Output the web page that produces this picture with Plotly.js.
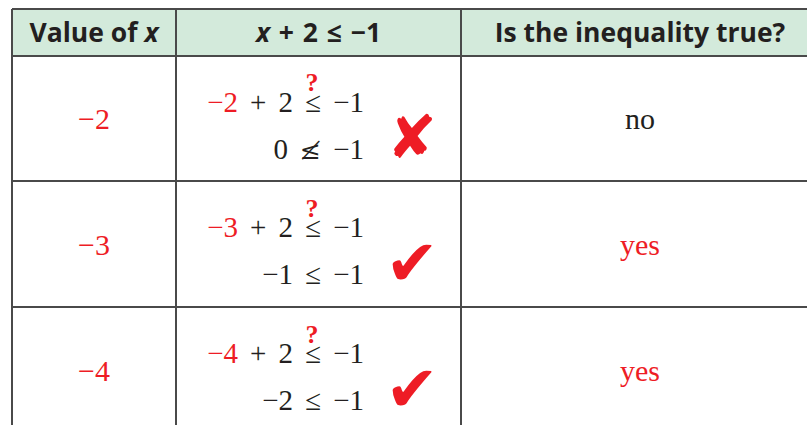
<!DOCTYPE html>
<html>
<head>
<meta charset="utf-8">
<script src="https://cdn.plot.ly/plotly-3.0.1.min.js"></script>
<style>html,body{margin:0;padding:0;background:#fff;}#chart{width:807px;height:425px;}</style>
</head>
<body>
<div id="chart"></div>
<script>
// ---- data ----
const headers = ['Value of <i>x</i>', '<i>x</i>\u2004+\u20042\u2004≤\u2004−1', 'Is the inequality true?'];
const xValues = ['−2', '−3', '−4'];
const leftSides = ['0', '−1', '−2'];
const relations = ['≰', '≤', '≤'];
const results = ['no', 'yes', 'yes'];
const marks = ['✘', '✔', '✔'];
const rhs = '−1';

// ---- layout constants (pixels) ----
const W = 807, H = 425;
const colEdges = [12, 176, 461, 819];
const rowEdges = [9, 56, 181, 307, 433];
const RED = '#ee1c25', INK = '#231f20', LINE = '#4a4a4a', HEAD = '#d3eadb';
const SERIF = 'Liberation Serif, Times New Roman, serif';
const SANS = 'Open Sans, Liberation Sans, sans-serif';
const SP = '\u2004\u200A';
const eqRight = 364;   // right edge of equation block
const qX = 312;        // x of the ? over the ≤
const markX = 412;

const red = s => `<span style="color:${RED}">${s}</span>`;
const rel = s => s === '≰' ? `<span style="font-family:DejaVu Serif;font-size:25px">${s}</span>` : s;
const colC = i => (colEdges[i] + colEdges[i + 1]) / 2;
const rowC = i => (rowEdges[i + 1] + rowEdges[i + 2]) / 2;

const traces = [];
// header text
traces.push({
  type: 'scatter', mode: 'text', hoverinfo: 'skip',
  x: headers.map((_, i) => colC(i)), y: headers.map(() => (rowEdges[0] + rowEdges[1]) / 2 + 3),
  text: headers.map(h => `<b>${h}</b>`),
  textfont: {family: SANS, size: 26.5, color: INK}, textposition: 'middle center'
});
// first column
traces.push({
  type: 'scatter', mode: 'text', hoverinfo: 'skip',
  x: xValues.map(() => colC(0)), y: xValues.map((_, i) => rowC(i) + 3),
  text: xValues.map(v => red(v)),
  textfont: {family: SERIF, size: 30, color: RED}, textposition: 'middle center'
});
// equation line 1
traces.push({
  type: 'scatter', mode: 'text', hoverinfo: 'skip',
  x: xValues.map(() => eqRight), y: xValues.map((_, i) => rowC(i) - 14),
  text: xValues.map(v => `${red(v)}${SP}+${SP}2${SP}≤${SP}${rhs}`),
  textfont: {family: SERIF, size: 29, color: INK}, textposition: 'middle left'
});
// question marks
traces.push({
  type: 'scatter', mode: 'text', hoverinfo: 'skip',
  x: xValues.map(() => qX), y: xValues.map((_, i) => rowC(i) - 34),
  text: xValues.map(() => '<b>?</b>'),
  textfont: {family: SERIF, size: 26, color: RED}, textposition: 'middle center'
});
// equation line 2
traces.push({
  type: 'scatter', mode: 'text', hoverinfo: 'skip',
  x: leftSides.map(() => eqRight), y: leftSides.map((_, i) => rowC(i) + 33),
  text: leftSides.map((v, i) => `${v}${SP}${rel(relations[i])}${SP}${rhs}`),
  textfont: {family: SERIF, size: 29, color: INK}, textposition: 'middle left'
});
// marks
traces.push({
  type: 'scatter', mode: 'text', hoverinfo: 'skip',
  x: marks.map(() => markX), y: marks.map((_, i) => rowC(i) + (i === 0 ? 24 : 25)),
  text: marks,
  textfont: {family: 'DejaVu Sans', size: marks.map((_, i) => i === 0 ? 60 : 64), color: RED}, textposition: 'middle center'
});
// results
traces.push({
  type: 'scatter', mode: 'text', hoverinfo: 'skip',
  x: results.map(() => colC(2)), y: results.map((_, i) => rowC(i) + 3),
  text: results.map(r => r === 'yes' ? red(r) : r),
  textfont: {family: SERIF, size: 30, color: INK}, textposition: 'middle center'
});

// grid shapes
const shapes = [];
shapes.push({type: 'rect', xref: 'x', yref: 'y', x0: colEdges[0], x1: colEdges[3], y0: rowEdges[0], y1: rowEdges[1],
  fillcolor: HEAD, line: {width: 0}, layer: 'below'});
rowEdges.forEach(y => shapes.push({type: 'line', x0: colEdges[0], x1: colEdges[3], y0: y, y1: y, line: {color: LINE, width: 2}}));
colEdges.forEach(x => shapes.push({type: 'line', x0: x, x1: x, y0: rowEdges[0], y1: rowEdges[4], line: {color: LINE, width: 2}}));

const layout = {
  width: W, height: H, margin: {l: 0, r: 0, t: 0, b: 0},
  paper_bgcolor: '#fff', plot_bgcolor: '#fff', showlegend: false,
  xaxis: {range: [0, W], visible: false, fixedrange: true},
  yaxis: {range: [H, 0], visible: false, fixedrange: true},
  shapes: shapes
};
Plotly.newPlot('chart', traces, layout, {staticPlot: true, displayModeBar: false});
</script>
</body>
</html>
